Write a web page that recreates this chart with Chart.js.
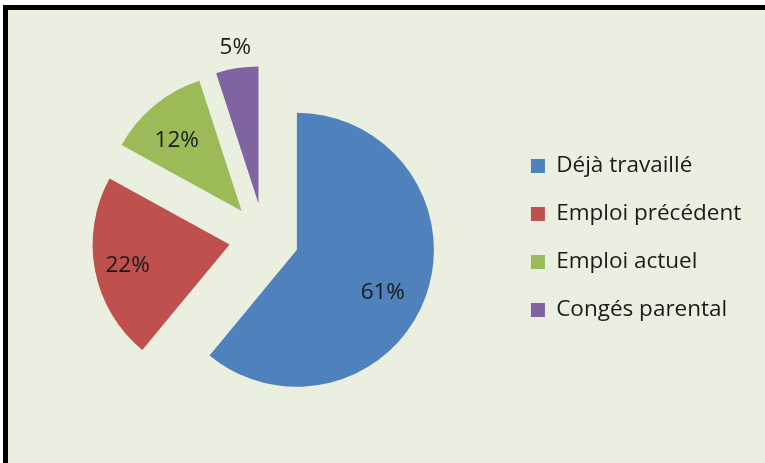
<!DOCTYPE html>
<html>
<head>
<meta charset="utf-8">
<script src="https://cdn.jsdelivr.net/npm/chart.js@4/dist/chart.umd.min.js"></script>
<style>
  html, body { margin: 0; padding: 0; background: #ffffff; }
  #frame {
    position: absolute; left: 3px; top: 5px; width: 770px; height: 470px;
    border-left: 5px solid #000; border-top: 5px solid #000;
    background: #EBEFDF;
  }
  #wrap { position: absolute; left: 0; top: 0; width: 765px; height: 463px; }
</style>
</head>
<body>
<div id="frame"></div>
<div id="wrap"><canvas id="c" width="765" height="463"></canvas></div>
<script>
// Répartition des réponses
const categories = ['Déjà travaillé', 'Emploi précédent', 'Emploi actuel', 'Congés parental'];
const shares = [61, 22, 12, 5];
const sliceColors = ['#4F81BD', '#C0504D', '#9BBB59', '#8064A2'];
// where each percentage label sits: distance from the slice tip (fraction of the radius)
// and position across the slice (0 = start edge, 1 = end edge)
const labelDistance = [0.70, 0.76, 0.70, 1.15];
const labelSweep = [0.53, 0.49, 0.43, 0.53];

const RADIUS = 137;
const EXPLODE = 35;           // every slice is pulled out from the centre by this much
const FONT = '"Open Sans", sans-serif';
const FONT_SIZE = 22.5;
const TEXT = '#1a1a1a';

// pull each slice outward along its bisector (pure translation, same radius for all)
const explode = {
  id: 'explode',
  beforeDatasetsDraw(chart) {
    const a = chart.chartArea;
    const cx = (a.left + a.right) / 2;
    const cy = (a.top + a.bottom) / 2;
    chart.getDatasetMeta(0).data.forEach(arc => {
      const mid = (arc.startAngle + arc.endAngle) / 2;
      arc.x = cx + Math.cos(mid) * EXPLODE;
      arc.y = cy + Math.sin(mid) * EXPLODE;
    });
  }
};

// percentage labels
const pctLabels = {
  id: 'pctLabels',
  afterDatasetsDraw(chart) {
    const ctx = chart.ctx;
    ctx.save();
    ctx.font = FONT_SIZE + 'px ' + FONT;
    ctx.fillStyle = TEXT;
    ctx.textAlign = 'center';
    ctx.textBaseline = 'middle';
    chart.getDatasetMeta(0).data.forEach((arc, i) => {
      const ang = arc.startAngle + labelSweep[i] * (arc.endAngle - arc.startAngle);
      const d = labelDistance[i] * RADIUS;
      ctx.fillText(shares[i] + '%', arc.x + Math.cos(ang) * d, arc.y + Math.sin(ang) * d);
    });
    ctx.restore();
  }
};

new Chart(document.getElementById('c'), {
  type: 'pie',
  data: {
    labels: categories,
    datasets: [{
      data: shares,
      backgroundColor: sliceColors,
      borderWidth: 0,
      hoverOffset: 0
    }]
  },
  options: {
    responsive: false,
    animation: false,
    radius: RADIUS,
    events: [],
    layout: { padding: { top: 40, bottom: 27, left: 22.5, right: 13.75 } },
    plugins: {
      tooltip: { enabled: false },
      legend: {
        position: 'right',
        labels: {
          boxWidth: 14,
          boxHeight: 14,
          padding: 25.5,
          color: TEXT,
          font: { family: FONT, size: FONT_SIZE }
        }
      }
    }
  },
  plugins: [explode, pctLabels]
});
</script>
</body>
</html>
